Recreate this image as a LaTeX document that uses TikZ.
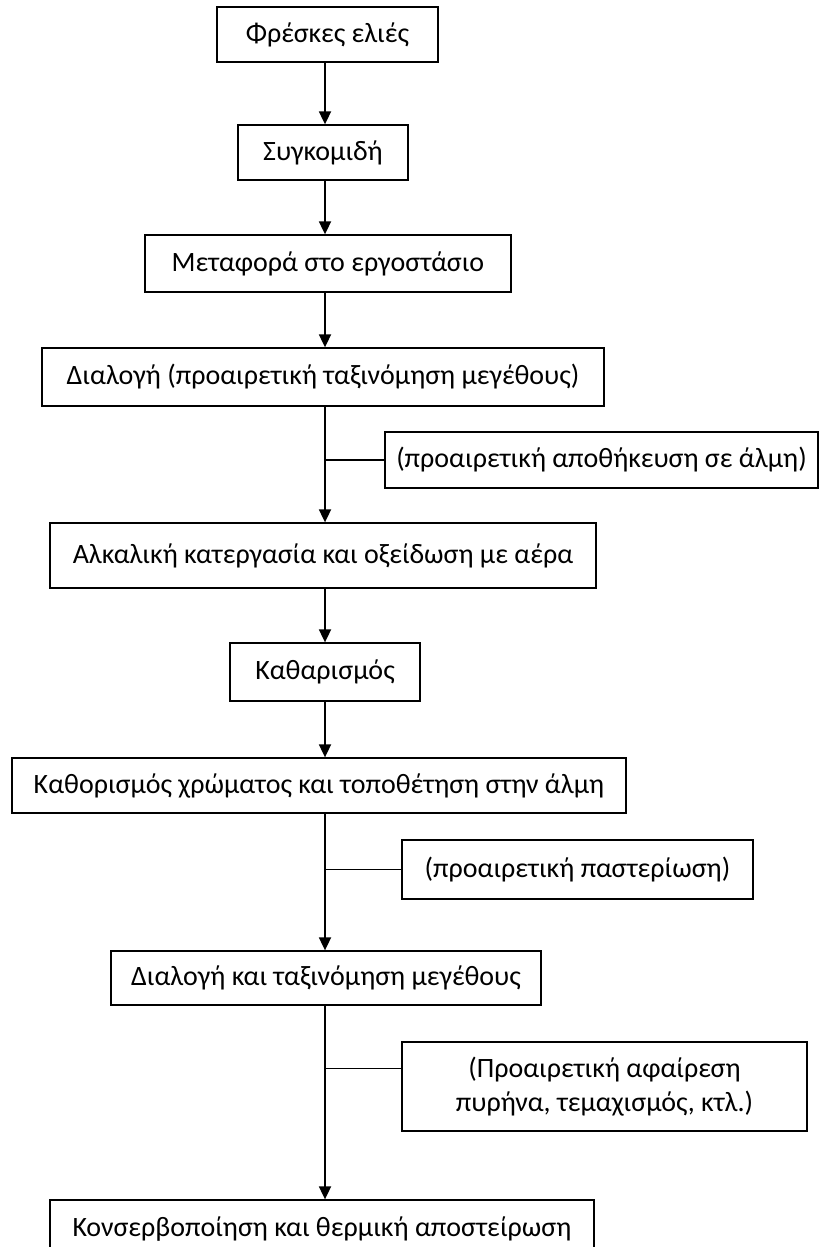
\documentclass[tikz,border=0pt]{standalone}
\usepackage{fontspec}
\setmainfont{Carlito}
\usetikzlibrary{arrows.meta,positioning}

\begin{document}
\begin{tikzpicture}[
  x=1pt,y=-1pt,
  stage/.style={draw=black,line width=1.3pt,minimum height=55pt,inner sep=0pt,align=center,font=\fontsize{28}{34}\selectfont},
  option/.style={stage},
  arrow/.style={-{Triangle[length=13pt,width=12pt]},line width=1.8pt},
  branch/.style={line width=1.3pt}
]
\useasboundingbox (0,0) rectangle (827,1247);
\clip (0,0) rectangle (827,1247);
\coordinate (spine) at (325,0);
% main stages
\node[stage,minimum width=221pt] (fresh) at (327.5,34.5) {Φρέσκες ελιές};
\node[stage,minimum width=170pt] (harvest) at (323,152.5) {Συγκομιδή};
\node[stage,minimum width=366pt,minimum height=57pt] (transport) at (328,263.5) {Μεταφορά στο εργοστάσιο};
\node[stage,minimum width=562pt,minimum height=58pt] (sort) at (323,377) {Διαλογή (προαιρετική ταξινόμηση μεγέθους)};
\node[stage,minimum width=546pt,minimum height=65pt] (alkali) at (323,555.5) {Αλκαλική κατεργασία και οξείδωση με αέρα};
\node[stage,minimum width=190pt,minimum height=58pt] (clean) at (325,672) {Καθαρισμός};
\node[stage,minimum width=614pt] (colour) at (319,785.5) {Καθορισμός χρώματος και τοποθέτηση στην άλμη};
\node[stage,minimum width=430pt,minimum height=54pt] (grade) at (326,978) {Διαλογή και ταξινόμηση μεγέθους};
\node[stage,minimum width=544pt,minimum height=58pt] (can) at (322,1229) {Κονσερβοποίηση και θερμική αποστείρωση};
% optional steps
\node[option,minimum width=433pt,minimum height=56pt] (brine) at (601.5,460) {(προαιρετική αποθήκευση σε άλμη)};
\node[option,minimum width=351pt,minimum height=59pt] (pasteur) at (577.5,869.5) {(προαιρετική παστερίωση)};
\node[option,minimum width=405pt,minimum height=89pt] (pit) at (604.5,1086.5) {(Προαιρετική αφαίρεση\\πυρήνα, τεμαχισμός, κτλ.)};

\draw[arrow] (fresh.south -| spine) -- (harvest.north -| spine);
\draw[arrow] (harvest.south -| spine) -- (transport.north -| spine);
\draw[arrow] (transport.south -| spine) -- (sort.north -| spine);
\draw[arrow] (sort.south -| spine) -- (alkali.north -| spine);
\draw[arrow] (alkali.south -| spine) -- (clean.north -| spine);
\draw[arrow] (clean.south -| spine) -- (colour.north -| spine);
\draw[arrow] (colour.south -| spine) -- (grade.north -| spine);
\draw[arrow] (grade.south -| spine) -- (can.north -| spine);

\draw[branch] (brine.west) -- (brine.west -| spine);
\draw[branch] (pasteur.west) -- (pasteur.west -| spine);
\draw[branch] ([yshift=18pt]pit.west) -- ([yshift=18pt]pit.west -| spine);
\end{tikzpicture}
\end{document}
